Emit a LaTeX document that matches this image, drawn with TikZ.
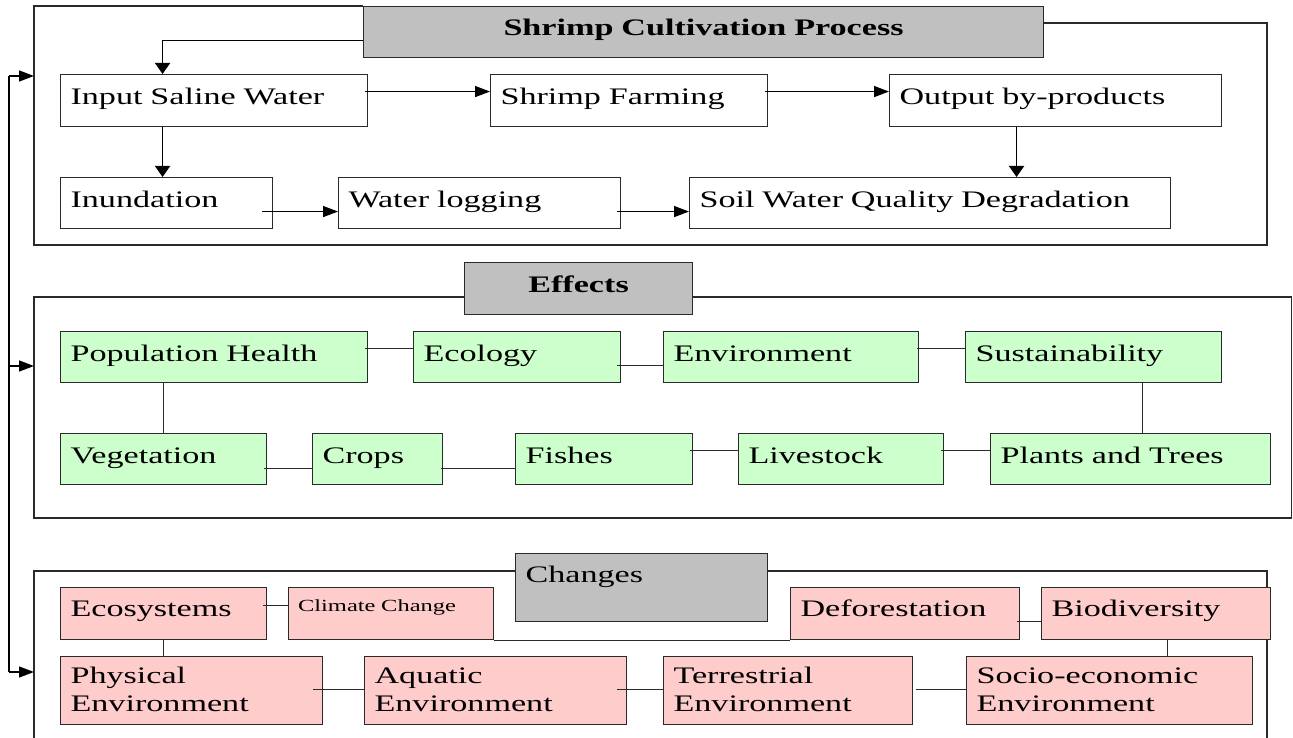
\documentclass[tikz,border=0pt]{standalone}
\usepackage{fontspec}
\setmainfont{Liberation Serif}[FakeStretch=1.44]
\usetikzlibrary{arrows.meta}
\definecolor{titlegray}{HTML}{C0C0C0}
\definecolor{effgreen}{HTML}{CCFFCC}
\definecolor{chgpink}{HTML}{FFCCCC}
\definecolor{inkline}{HTML}{2A2A2A}
\begin{document}
\begin{tikzpicture}[x=1pt,y=-1pt,
  frame/.style={draw=inkline,line width=1.3pt},
  bx/.style={draw=inkline,line width=1.1pt,anchor=north west,inner xsep=10pt,inner ysep=0pt,
    align=left,font=\fontsize{23.7}{28}\selectfont,text height=30pt,text depth=22pt},
  wbox/.style={bx,fill=white},
  gbox/.style={bx,fill=effgreen},
  pbox/.style={bx,fill=chgpink},
  twoline/.style={text height=27pt,text depth=41pt},
  ttl/.style={bx,fill=titlegray},
  ln/.style={draw=inkline,line width=1.1pt},
  harr/.style={draw=black,line width=1.4pt,-{Triangle[length=15pt,width=11pt]}},
  varr/.style={draw=black,line width=1.6pt,-{Triangle[length=11pt,width=15pt]}}
]
\useasboundingbox (0,0) rectangle (1293,738);

% ---------- frames ----------
\draw[frame] (363,6) -- (34,6) -- (34,245) -- (1267,245) -- (1267,23) -- (1043,23);
\draw[frame] (34,297) rectangle (1291.5,518);
\draw[frame] (34,740) -- (34,571) -- (1267,571) -- (1267,740);

% ---------- Shrimp cultivation process ----------
\node[ttl,align=center,text width=660pt,text height=29pt,text depth=22pt,font=\fontsize{23.7}{28}\selectfont\bfseries]
  (title1) at (363,6) {Shrimp Cultivation Process};
\node[wbox,text width=287pt] (in)    at (60,74)  {Input Saline Water};
\node[wbox,text width=257pt] (farm)  at (490,74) {Shrimp Farming};
\node[wbox,text width=312pt] (out)   at (889,74) {Output by-products};
\node[wbox,text width=192pt,text depth=21pt] (inund) at (60,177)  {Inundation};
\node[wbox,text width=262pt,text depth=21pt] (wlog)  at (338,177) {Water logging};
\node[wbox,text width=461pt,text depth=21pt] (soil)  at (689,177) {Soil Water Quality Degradation};

\draw[varr] ([yshift=-8.5pt]title1.west) -| ([xshift=-51.5pt]in.north);
\draw[harr] ([xshift=-3pt,yshift=9pt]in.east) -- ([yshift=9pt]farm.west);
\draw[harr] ([xshift=-3pt,yshift=9pt]farm.east) -- ([yshift=9pt]out.west);
\draw[varr] ([xshift=-39pt]out.south) -- ([xshift=-39pt]out.south |- soil.north);
\draw[varr] ([xshift=-51.5pt]in.south) -- ([xshift=-51.5pt]in.south |- inund.north);
\draw[harr] ([xshift=-11pt,yshift=-8.5pt]inund.east) -- ([yshift=-8.5pt]wlog.west);
\draw[harr] ([xshift=-4pt,yshift=-8.5pt]wlog.east) -- ([yshift=-8.5pt]soil.west);

% ---------- Effects ----------
\node[ttl,align=center,text width=208pt,font=\fontsize{23.7}{28}\selectfont\bfseries]
  (title2) at (464,262) {Effects};
\node[gbox,text width=287pt,text depth=21pt] (ph)  at (60,331)  {Population Health};
\node[gbox,text width=187pt,text depth=21pt] (eco) at (413,331) {Ecology};
\node[gbox,text width=235pt,text depth=21pt] (env) at (663,331) {Environment};
\node[gbox,text width=236pt,text depth=21pt] (sus) at (965,331) {Sustainability};
\node[gbox,text width=186pt,text depth=21pt] (veg)    at (60,433)  {Vegetation};
\node[gbox,text width=110pt,text depth=21pt] (crops)  at (312,433) {Crops};
\node[gbox,text width=157pt,text depth=21pt] (fish)   at (515,433) {Fishes};
\node[gbox,text width=185pt,text depth=21pt] (live)   at (738,433) {Livestock};
\node[gbox,text width=260pt,text depth=21pt] (plants) at (990,433) {Plants and Trees};

\draw[ln] ([xshift=-3pt,yshift=8.5pt]ph.east) -- ([yshift=8.5pt]eco.west);
\draw[ln] ([xshift=-4pt,yshift=-8.5pt]eco.east) -- ([yshift=-8.5pt]env.west);
\draw[ln] ([xshift=-2pt,yshift=8.5pt]env.east) -- ([yshift=8.5pt]sus.west);
\draw[ln] (veg.north |- ph.south) -- (veg.north);
\draw[ln] ([xshift=12pt]plants.north |- sus.south) -- ([xshift=12pt]plants.north);
\draw[ln] ([xshift=-3pt,yshift=-9.5pt]veg.east) -- ([yshift=-9.5pt]crops.west);
\draw[ln] ([xshift=-2pt,yshift=-9.5pt]crops.east) -- ([yshift=-9.5pt]fish.west);
\draw[ln] ([xshift=-3pt,yshift=8.5pt]fish.east) -- ([yshift=8.5pt]live.west);
\draw[ln] ([xshift=-3pt,yshift=8.5pt]live.east) -- ([yshift=8.5pt]plants.west);

% ---------- Changes ----------
\node[ttl,text width=232pt,text height=29pt,text depth=39pt] (title3) at (515,553) {Changes};
\node[pbox,text width=186pt,text height=29pt,text depth=23pt] (ecos) at (60,587) {Ecosystems};
\node[pbox,text width=185.5pt,text height=24pt,text depth=28pt,font=\fontsize{17}{20}\selectfont]
  (clim) at (287.5,587) {Climate Change};
\node[pbox,text width=209pt,text height=29pt,text depth=23pt] (defo) at (790,587)  {Deforestation};
\node[pbox,text width=209pt,text height=29pt,text depth=23pt] (bio)  at (1041,587) {Biodiversity};
\node[pbox,twoline,text width=242pt] (phys)  at (60,656)  {Physical\\Environment};
\node[pbox,twoline,text width=242pt] (aqua)  at (364,656) {Aquatic\\Environment};
\node[pbox,twoline,text width=229pt] (terr)  at (663,656) {Terrestrial\\Environment};
\node[pbox,twoline,text width=266pt] (socio) at (966,656) {Socio-economic\\Environment};

\draw[ln] ([xshift=-4pt,yshift=8pt]ecos.east) -- ([yshift=8pt]clim.west);
\draw[ln] (clim.south east) -- (defo.south west);
\draw[ln] ([xshift=-3pt,yshift=-8pt]defo.east) -- ([yshift=-8pt]bio.west);
\draw[ln] (ecos.south) -- (ecos.south |- phys.north);
\draw[ln] ([xshift=11.5pt]bio.south) -- ([xshift=11.5pt]bio.south |- socio.north);
\draw[ln] ([xshift=-10pt,yshift=1pt]phys.east) -- ([yshift=1pt]aqua.west);
\draw[ln] ([xshift=-10pt,yshift=1pt]aqua.east) -- ([yshift=1pt]terr.west);
\draw[ln] ([xshift=3pt,yshift=1pt]terr.east) -- ([yshift=1pt]socio.west);

% ---------- feedback loop on the left ----------
\coordinate (fbTop) at (9,76);
\coordinate (fbMid) at (9,366);
\coordinate (fbBot) at (9,672);
\coordinate (fTop) at (34,76);
\coordinate (fMid) at (34,366);
\coordinate (fBot) at (34,672);
\draw[draw=black,line width=1.6pt] (fbTop) -- (fbBot);
\draw[harr] (fbTop) -- (fTop);
\draw[harr] (fbMid) -- (fMid);
\draw[harr] (fbBot) -- (fBot);
\end{tikzpicture}
\end{document}
